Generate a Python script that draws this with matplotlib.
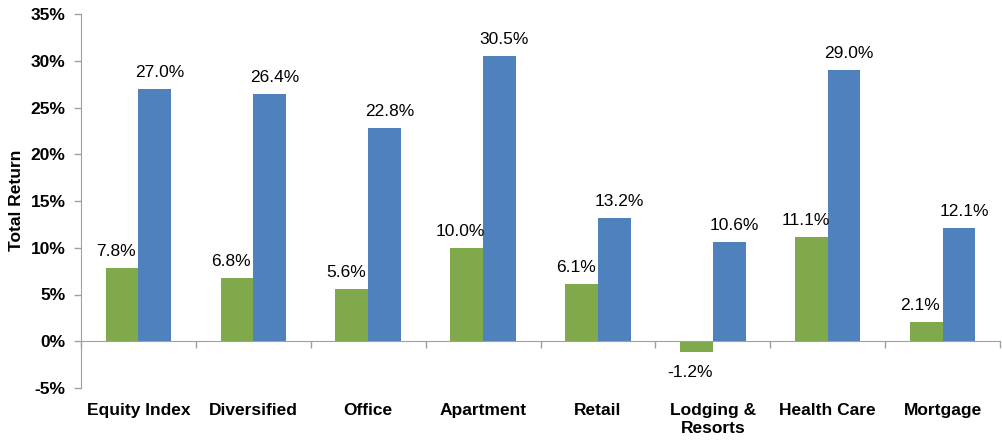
import matplotlib
matplotlib.use("Agg")
import matplotlib.pyplot as plt
import numpy as np
from matplotlib.ticker import FuncFormatter

plt.rcParams['font.family'] = ['Liberation Sans', 'DejaVu Sans']

categories = ["Equity Index", "Diversified", "Office", "Apartment", "Retail",
              "Lodging &\nResorts", "Health Care", "Mortgage"]
green_vals = [7.8, 6.8, 5.6, 10.0, 6.1, -1.2, 11.1, 2.1]
blue_vals = [27.0, 26.4, 22.8, 30.5, 13.2, 10.6, 29.0, 12.1]
y_ticks = [-5, 0, 5, 10, 15, 20, 25, 30, 35]

GREEN = "#7FA94A"
BLUE = "#4F81BD"
GRAY = "#A0A0A0"

fig = plt.figure(figsize=(10.02, 4.41), dpi=100)
ax = fig.add_axes([81/1002, 1-388/441, 919/1002, (388-14)/441])

n = len(categories)
x = np.arange(n)
w = 0.285
ax.bar(x - w/2, green_vals, w, color=GREEN, linewidth=0)
ax.bar(x + w/2, blue_vals, w, color=BLUE, linewidth=0)

ax.set_xlim(-0.5, n - 0.5)
ax.set_ylim(-5, 35)
ax.set_yticks(y_ticks)
ax.yaxis.set_major_formatter(FuncFormatter(lambda v, p: f"{int(v)}%"))
ax.tick_params(axis='y', direction='out', length=5, color=GRAY, width=1,
               labelsize=12.5, pad=6)
for lab in ax.get_yticklabels():
    lab.set_fontweight('bold')

for s in ['top', 'right']:
    ax.spines[s].set_visible(False)
ax.spines['left'].set_color(GRAY)
ax.spines['bottom'].set_position(('data', 0))
ax.spines['bottom'].set_color(GRAY)
ax.set_xticks(np.arange(n + 1) - 0.5)
ax.set_xticklabels([])
ax.tick_params(axis='x', direction='out', length=5, color=GRAY, width=1)

trans = ax.get_xaxis_transform()
for i, c in enumerate(categories):
    ax.annotate(c, xy=(i, 0), xycoords=trans, xytext=(0, -11),
                textcoords='offset points', ha='center', va='top',
                fontsize=12.5, fontweight='bold', linespacing=1.25)

PX = 0.72  # points per pixel at 100 dpi

def lab(xp, v, dx):
    if v >= 0:
        ax.annotate(f"{v:.1f}%", xy=(xp, v), xytext=(dx * PX, 12 * PX),
                    textcoords='offset points', ha='center', va='baseline',
                    fontsize=12.5)
    else:
        ax.annotate(f"{v:.1f}%", xy=(xp, v), xytext=(dx * PX, -13 * PX),
                    textcoords='offset points', ha='center', va='top',
                    fontsize=12.5)

for i in range(n):
    lab(x[i] - w/2, green_vals[i], -6)
    lab(x[i] + w/2, blue_vals[i], 5)

fig.text(17/1002, 1-200/441, "Total Return", rotation=90, ha='center', va='center',
         fontsize=12.5, fontweight='bold')

fig.savefig("out.png", dpi=100)
